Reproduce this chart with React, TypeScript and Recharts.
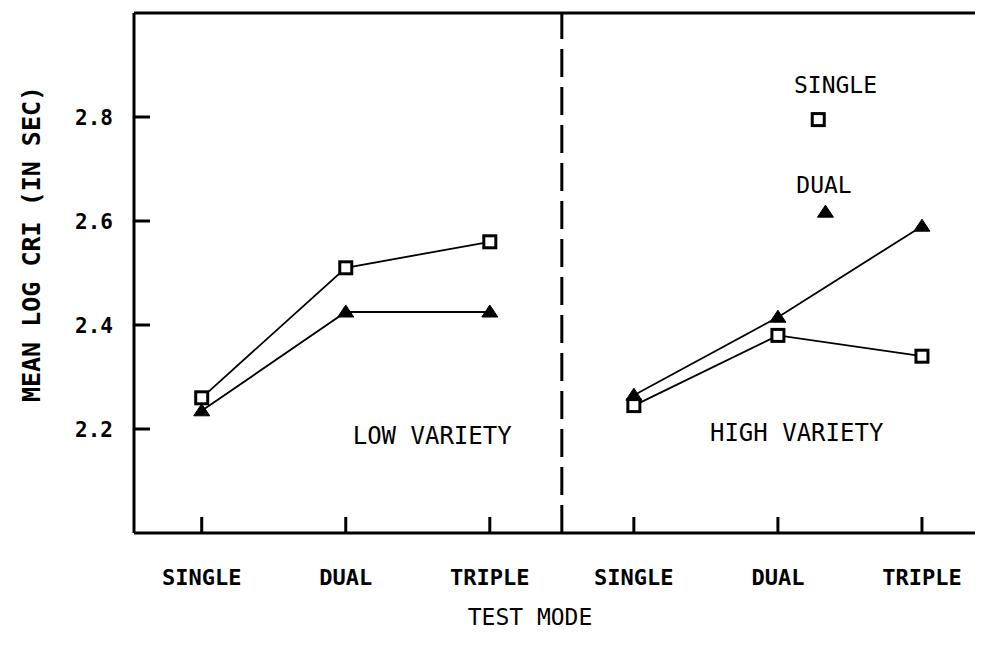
import { LineChart, Line, XAxis, YAxis, ReferenceLine, ReferenceDot } from "recharts";

// mean log CRI by test mode, two training groups, two variety conditions
const testModes = ["SINGLE", "DUAL", "TRIPLE"];
const lowPositions = [1, 2, 3];
const highPositions = [4, 5, 6];
const lowSingle = [2.26, 2.51, 2.56];
const lowDual = [2.235, 2.425, 2.425];
const highSingle = [2.245, 2.38, 2.34];
const highDual = [2.265, 2.415, 2.59];
const yTicks = [2.2, 2.4, 2.6, 2.8];
const xTicks = [1, 2, 3, 4, 5, 6];

const FONT = "'DejaVu Sans Mono', monospace";

const toPoints = (xs: number[], ys: number[]) => xs.map((x, i) => ({ x, y: ys[i] }));

function SquareDot(props: any) {
  const { cx, cy } = props;
  if (cx == null || cy == null) return null;
  return <rect x={cx - 6} y={cy - 6} width={12} height={12} fill="#fff" stroke="#000" strokeWidth={3} />;
}

function TriangleDot(props: any) {
  const { cx, cy } = props;
  if (cx == null || cy == null) return null;
  return (
    <polygon
      points={`${cx - 8},${cy + 5} ${cx + 8},${cy + 5} ${cx},${cy - 7}`}
      fill="#000"
      stroke="#000"
      strokeWidth={1}
    />
  );
}

function XTick({ x, y, payload }: any) {
  const label = testModes[(payload.value - 1) % 3];
  return (
    <g>
      <line x1={x} y1={y} x2={x} y2={y - 16} stroke="#000" strokeWidth={3} />
      <text x={x} y={y + 52} textAnchor="middle" fontFamily={FONT} fontWeight="bold" fontSize={22} fill="#000">
        {label}
      </text>
    </g>
  );
}

function YTick({ x, y, payload }: any) {
  return (
    <g>
      <line x1={x} y1={y} x2={x + 16} y2={y} stroke="#000" strokeWidth={3} />
      <text x={x - 21} y={y + 8} textAnchor="end" fontFamily={FONT} fontWeight="bold" fontSize={21} fill="#000">
        {payload.value.toFixed(1)}
      </text>
    </g>
  );
}

const textShape = (text: string, size: number, bold = false) => (p: any) =>
  (
    <text
      x={p.cx}
      y={p.cy + size * 0.36}
      textAnchor="middle"
      fontFamily={FONT}
      fontSize={size}
      fontWeight={bold ? "bold" : "normal"}
      fill="#000"
    >
      {text}
    </text>
  );

export default function App() {
  const line = { stroke: "#000", strokeWidth: 1.8, isAnimationActive: false, type: "linear" as const };
  return (
    <LineChart width={970} height={638} margin={{ top: 5, right: 0, bottom: 0, left: 0 }}>
      <XAxis
        type="number"
        dataKey="x"
        domain={[0.53, 6.389]}
        ticks={xTicks}
        allowDataOverflow
        height={113}
        tickSize={0}
        tickMargin={0}
        tick={<XTick />}
        axisLine={{ stroke: "#000", strokeWidth: 3 }}
        label={(p: any) => (
          <text
            x={p.viewBox.x + 396}
            y={p.viewBox.y + 92}
            textAnchor="middle"
            fontFamily={FONT}
            fontSize={23}
            fill="#000"
          >
            TEST MODE
          </text>
        )}
      />
      <YAxis
        type="number"
        dataKey="y"
        domain={[2.0, 3.0]}
        ticks={yTicks}
        allowDataOverflow
        width={126}
        tickSize={0}
        tickMargin={0}
        tick={<YTick />}
        axisLine={{ stroke: "#000", strokeWidth: 3 }}
        label={(p: any) => {
          const cx = p.viewBox.x + 23;
          const cy = p.viewBox.y + 231;
          return (
            <text
              x={cx}
              y={cy}
              transform={`rotate(-90 ${cx} ${cy})`}
              dy={9}
              textAnchor="middle"
              fontFamily={FONT}
              fontWeight="bold"
              fontSize={25}
              fill="#000"
            >
              MEAN LOG CRI (IN SEC)
            </text>
          );
        }}
      />
      <ReferenceLine y={3.0} stroke="#000" strokeWidth={3} />
      <ReferenceLine x={3.5} stroke="#000" strokeWidth={3} strokeDasharray="28 10" />

      <Line {...line} data={toPoints(lowPositions, lowSingle)} dataKey="y" dot={(p: any) => <SquareDot key={p.index} {...p} />} />
      <Line {...line} data={toPoints(lowPositions, lowDual)} dataKey="y" dot={(p: any) => <TriangleDot key={p.index} {...p} />} />
      <Line {...line} data={toPoints(highPositions, highSingle)} dataKey="y" dot={(p: any) => <SquareDot key={p.index} {...p} />} />
      <Line {...line} data={toPoints(highPositions, highDual)} dataKey="y" dot={(p: any) => <TriangleDot key={p.index} {...p} />} />

      {/* key */}
      <ReferenceDot x={5.4} y={2.862} r={1} shape={textShape("SINGLE", 23)} />
      <ReferenceDot x={5.28} y={2.795} r={6} shape={(p: any) => <SquareDot {...p} />} />
      <ReferenceDot x={5.32} y={2.669} r={1} shape={textShape("DUAL", 23)} />
      <ReferenceDot x={5.33} y={2.617} r={6} shape={(p: any) => <TriangleDot {...p} />} />

      <ReferenceDot x={2.6} y={2.187} r={1} shape={textShape("LOW VARIETY", 24)} />
      <ReferenceDot x={5.13} y={2.194} r={1} shape={textShape("HIGH VARIETY", 24)} />
    </LineChart>
  );
}
